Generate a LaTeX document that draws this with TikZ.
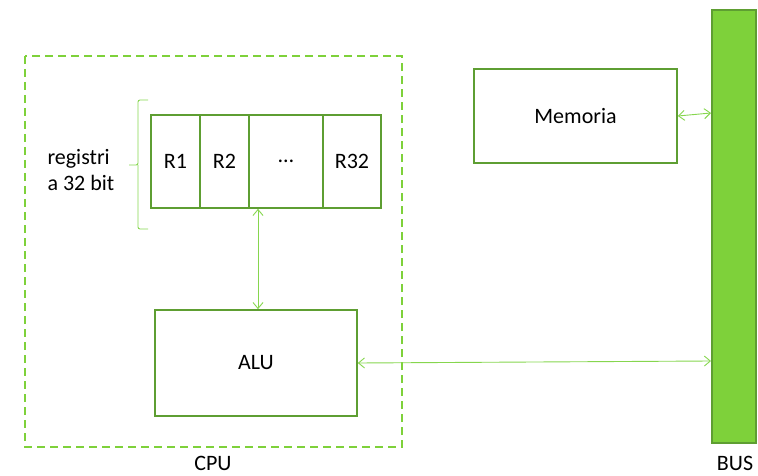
\documentclass[tikz,border=0pt]{standalone}
\usepackage{fontspec}
\setmainfont{Carlito}
\usetikzlibrary{arrows.meta}
\definecolor{boxgreen}{HTML}{5E9E32}
\definecolor{lightgreen}{HTML}{7ED13A}
\definecolor{arrowgreen}{HTML}{86D64E}
\begin{document}
\begin{tikzpicture}[x=1pt,y=-1pt,
  every node/.style={font=\fontsize{22}{26}\selectfont, text=black},
  gbox/.style={draw=boxgreen, line width=1.6pt, minimum width=0pt, inner sep=0pt},
  link/.style={draw=arrowgreen, line width=0.9pt, {Straight Barb[length=6pt,width=10pt]}-{Straight Barb[length=6pt,width=10pt]}}]
\useasboundingbox (0,0) rectangle (758,476);
% CPU dashed container
\draw[lightgreen, line width=1.8pt, dash pattern=on 8pt off 5pt] (25,56) rectangle (402,447);
\node (cpu) at (213,463.5) {CPU};
% BUS
\draw[fill=lightgreen, draw=boxgreen, line width=1.2pt] (712,10) rectangle (756,443);
\coordinate (busA) at (711,361);
\coordinate (busM) at (711,113);
\node (bus) at (735,463.5) {BUS};
% registers
\node[gbox, minimum width=49pt, minimum height=93pt] (r1) at (175.5,161.5) {R1};
\node[gbox, minimum width=49pt, minimum height=93pt] (r2) at (224.5,161.5) {R2};
\node[gbox, minimum width=74pt, minimum height=93pt] (rd) at (286,161.5) {…};
\node[gbox, minimum width=58pt, minimum height=93pt] (r32) at (352,161.5) {R32};
% brace
\draw[arrowgreen, line width=0.9pt, rounded corners=2pt] (148,100) -- (138,100) -- (138,165) -- (129,165) (138,165) -- (138,229) -- (148,229);
\node[align=left, anchor=west] (lab) at (44,170) {registri\\a 32 bit};
% ALU
\node[gbox, minimum width=202pt, minimum height=106pt] (alu) at (256,363) {ALU};
% Memoria
\node[gbox, minimum width=203pt, minimum height=94pt] (mem) at (575.5,116) {Memoria};
% connectors
\draw[link] (rd.south -| 258,0) -- (alu.north -| 258,0);
\draw[link] (alu.east) -- (busA);
\draw[link] (mem.east) -- (busM);
\end{tikzpicture}
\end{document}
